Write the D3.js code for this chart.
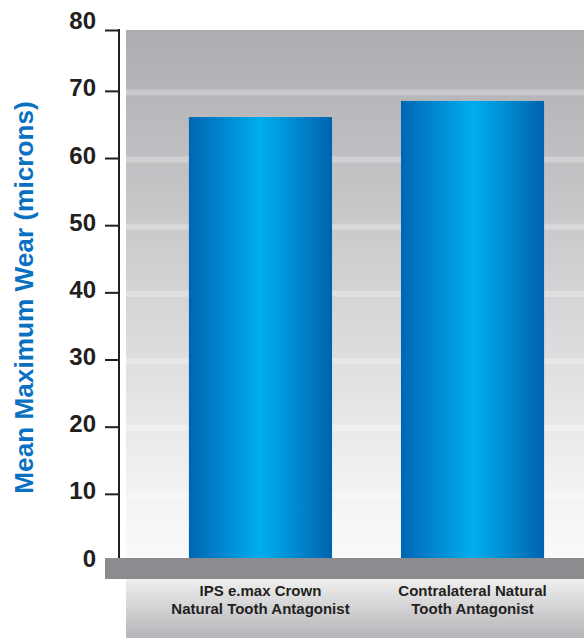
<!DOCTYPE html>
<html>
<head>
<meta charset="utf-8">
<script src="https://cdn.jsdelivr.net/npm/d3@7"></script>
<style>
  html, body { margin: 0; padding: 0; background: #ffffff; }
  svg { display: block; }
  text { font-family: "Liberation Sans", Arial, Helvetica, sans-serif; font-weight: bold; }
</style>
</head>
<body>
<svg id="chart" width="584" height="638"></svg>
<script>
// ---- data ----
const categories = ["IPS e.max Crown|Natural Tooth Antagonist", "Contralateral Natural|Tooth Antagonist"];
const values = [66.1, 68.5];
const yTicks = [0, 10, 20, 30, 40, 50, 60, 70, 80];
const gridValues = [10, 20, 30, 40, 50, 60, 70];
const yTitle = "Mean Maximum Wear (microns)";

// ---- layout ----
const W = 584, H = 638;
const axisX = 119;
const plotLeft = 126, plotRight = 584, plotTop = 30, plotBottom = 558;
const baseBandBottom = 579;

const svg = d3.select("#chart");
const defs = svg.append("defs");

const bg = defs.append("linearGradient").attr("id", "bgGrad")
  .attr("x1", 0).attr("y1", 0).attr("x2", 0).attr("y2", 1);
[[0, "#adadb1"], [0.3, "#c4c4c7"], [0.6, "#dcdcde"], [0.85, "#f1f1f2"], [1, "#fafafa"]]
  .forEach(([o, c]) => bg.append("stop").attr("offset", o).attr("stop-color", c));

const lower = defs.append("linearGradient").attr("id", "lowGrad")
  .attr("x1", 0).attr("y1", 0).attr("x2", 0).attr("y2", 1);
[[0, "#efefef"], [1, "#b5b5b9"]]
  .forEach(([o, c]) => lower.append("stop").attr("offset", o).attr("stop-color", c));

const barG = defs.append("linearGradient").attr("id", "barGrad")
  .attr("x1", 0).attr("y1", 0).attr("x2", 1).attr("y2", 0);
[[0, "#0066b3"], [0.3, "#0090d7"], [0.5, "#00aeef"], [0.72, "#008ed4"], [1, "#0062ad"]]
  .forEach(([o, c]) => barG.append("stop").attr("offset", o).attr("stop-color", c));

// scales
const y = d3.scaleLinear().domain([0, 80]).range([561, 23.7]);
const x = d3.scaleBand().domain(categories).range([120, 613]).padding(0.325);

// plot background
svg.append("rect").attr("x", plotLeft).attr("y", plotTop)
  .attr("width", plotRight - plotLeft).attr("height", plotBottom - plotTop)
  .attr("fill", "url(#bgGrad)");

// grid bands
svg.append("g").selectAll("rect").data(gridValues).join("rect")
  .attr("x", plotLeft).attr("width", plotRight - plotLeft)
  .attr("y", d => y(d) - 1.5).attr("height", 6)
  .attr("fill", "#ffffff").attr("fill-opacity", 0.28);

// bars
svg.append("g").selectAll("rect").data(values).join("rect")
  .attr("x", (d, i) => x(categories[i]))
  .attr("width", x.bandwidth())
  .attr("y", d => y(d))
  .attr("height", d => plotBottom - y(d))
  .attr("fill", "url(#barGrad)");

// base band
svg.append("rect").attr("x", 105).attr("y", plotBottom)
  .attr("width", W - 105).attr("height", baseBandBottom - plotBottom)
  .attr("fill", "#8c8c90");

// lower label panel
svg.append("rect").attr("x", plotLeft).attr("y", baseBandBottom)
  .attr("width", plotRight - plotLeft).attr("height", H - baseBandBottom)
  .attr("fill", "url(#lowGrad)");

// y axis
const axis = d3.axisLeft(y).tickValues(yTicks).tickSize(14).tickPadding(9)
  .tickFormat(d3.format("d"));
const ag = svg.append("g").attr("transform", `translate(${axisX},0)`).call(axis);
ag.select(".domain").remove();
ag.selectAll(".tick line").attr("stroke", "#231f20").attr("stroke-width", 2)
  .attr("transform", d => d === 80 ? `translate(0,${plotTop - y(80)})` : null);
ag.selectAll(".tick text")
  .attr("dy", "5px")
  .attr("fill", "#231f20")
  .style("font-size", "24px");
ag.selectAll(".tick").filter(d => d === 0).select("line").remove();
ag.append("line").attr("x1", 0).attr("x2", 0)
  .attr("y1", plotTop - 1).attr("y2", plotBottom)
  .attr("stroke", "#231f20").attr("stroke-width", 2);

// category labels
const lg = svg.append("g");
categories.forEach(c => {
  const lines = c.split("|");
  const t = lg.append("text")
    .attr("x", x(c) + x.bandwidth() / 2)
    .attr("text-anchor", "middle")
    .attr("fill", "#231f20")
    .style("font-size", "15px");
  lines.forEach((ln, i) => {
    t.append("tspan").attr("x", x(c) + x.bandwidth() / 2)
      .attr("y", 595.5 + i * 18.5).text(ln);
  });
});

// y title
svg.append("text")
  .attr("transform", `translate(32.5,297.5) rotate(-90)`)
  .attr("text-anchor", "middle")
  .attr("fill", "#0a71c2")
  .style("font-size", "26.2px")
  .text(yTitle);
</script>
</body>
</html>
